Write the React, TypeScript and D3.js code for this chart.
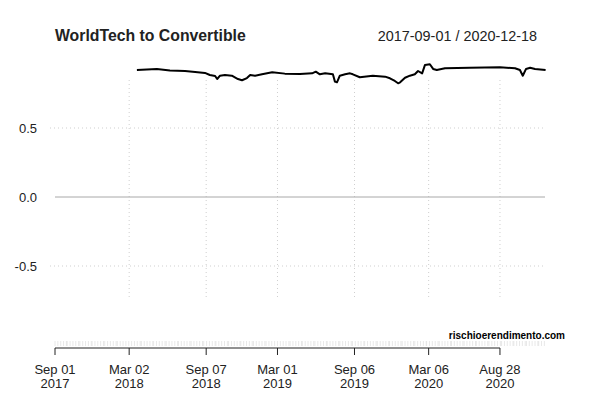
import React from "react";
import * as d3 from "d3";

const title = "WorldTech to Convertible";
const dateRangeLabel = "2017-09-01 / 2020-12-18";
const watermark = "rischioerendimento.com";

const startDate = "2017-09-01";
const endDate = "2020-12-18";

const majorTickDates = [
  "2017-09-01", "2018-03-02", "2018-09-07", "2019-03-01",
  "2019-09-06", "2020-03-06", "2020-08-28",
];
const yTicks = [-0.5, 0, 0.5];

const dates = [
  "2018-03-21", "2018-05-09", "2018-06-10", "2018-07-17", "2018-08-11",
  "2018-09-04", "2018-09-16", "2018-09-29", "2018-10-04", "2018-10-11",
  "2018-10-23", "2018-11-09", "2018-11-24", "2018-12-04", "2018-12-16",
  "2018-12-24", "2019-01-05", "2019-01-22", "2019-02-16", "2019-03-19",
  "2019-04-25", "2019-05-25", "2019-06-03", "2019-06-13", "2019-06-26",
  "2019-07-15", "2019-07-20", "2019-07-25", "2019-08-01", "2019-08-14",
  "2019-08-26", "2019-09-02", "2019-09-19", "2019-10-21", "2019-11-20",
  "2019-12-02", "2019-12-14", "2019-12-22", "2019-12-27", "2020-01-08",
  "2020-01-20", "2020-02-01", "2020-02-09", "2020-02-19", "2020-02-26",
  "2020-03-09", "2020-03-17", "2020-03-26", "2020-04-15", "2020-06-15",
  "2020-08-28", "2020-10-04", "2020-10-16", "2020-10-23", "2020-10-31",
  "2020-11-10", "2020-11-22", "2020-12-18",
];
const values = [
  0.920, 0.928, 0.917, 0.913, 0.906,
  0.899, 0.884, 0.877, 0.855, 0.879,
  0.884, 0.879, 0.855, 0.846, 0.862,
  0.884, 0.879, 0.889, 0.904, 0.894,
  0.891, 0.896, 0.908, 0.889, 0.896,
  0.889, 0.836, 0.831, 0.879, 0.889,
  0.896, 0.889, 0.868, 0.879, 0.872,
  0.860, 0.841, 0.824, 0.831, 0.864,
  0.879, 0.889, 0.913, 0.896, 0.957,
  0.962, 0.928, 0.920, 0.933, 0.937,
  0.940, 0.933, 0.920, 0.879, 0.928,
  0.937, 0.928, 0.920,
];

const parse = d3.timeParse("%Y-%m-%d");

export default function App() {
  const x = d3.scaleTime()
    .domain([parse(startDate)!, parse(endDate)!])
    .range([55, 545.6]);
  const y = d3.scaleLinear().domain([-0.5, 0.5]).range([266, 128]);

  const pts = dates.map((d, i) => ({ d: parse(d)!, v: values[i] }));
  const line = d3.line<{ d: Date; v: number }>()
    .x((p) => x(p.d))
    .y((p) => y(p.v))
    .curve(d3.curveLinear);

  const majors = majorTickDates.map((d) => parse(d)!);
  const minors = d3.timeDay.every(7)!.range(parse(startDate)!, d3.timeDay.offset(parse(endDate)!, 1));
  const fmtMD = d3.timeFormat("%b %d");
  const fmtY = d3.timeFormat("%Y");

  const font = "'Liberation Sans', Arial, Helvetica, sans-serif";
  const gridTop = 80;
  const gridBottom = 300;
  const axisY = 348;

  return (
    <svg width={600} height={400} style={{ position: "absolute", left: 0, top: 0, background: "#fff" }} fontFamily={font}>
      <rect width={600} height={400} fill="#fff" />
      <text x={55} y={41} fontSize={15.8} fontWeight="bold" fill="#222">{title}</text>
      <text x={537} y={41} fontSize={14.4} textAnchor="end" fill="#222">{dateRangeLabel}</text>

      {/* vertical grid */}
      {majors.slice(1).map((d, i) => (
        <line key={"vg" + i} x1={x(d)} x2={x(d)} y1={gridTop} y2={gridBottom}
          stroke="#cfcfcf" strokeWidth={1} strokeDasharray="1,3" />
      ))}
      {/* horizontal grid */}
      {yTicks.map((t, i) => t === 0 ? (
        <line key={"hg" + i} x1={55} x2={545} y1={y(t)} y2={y(t)} stroke="#a8a8a8" strokeWidth={1} />
      ) : (
        <line key={"hg" + i} x1={50} x2={545} y1={y(t)} y2={y(t)} stroke="#cfcfcf" strokeWidth={1} strokeDasharray="1,3" />
      ))}
      {yTicks.map((t, i) => (
        <text key={"yl" + i} x={37} y={y(t)} dy="0.35em" fontSize={13} textAnchor="end" fill="#222">
          {t.toFixed(1)}
        </text>
      ))}

      {/* series */}
      <path d={line(pts) || ""} fill="none" stroke="#000" strokeWidth={2} strokeLinejoin="round" />

      {/* minor ticks band */}
      {minors.map((d, i) => (
        <line key={"mt" + i} x1={x(d)} x2={x(d)} y1={341} y2={346} stroke="#e2e2e2" strokeWidth={0.8} />
      ))}
      {/* axis */}
      <line x1={x(majors[0])} x2={x(majors[majors.length - 1])} y1={axisY} y2={axisY} stroke="#222" strokeWidth={1} />
      {majors.map((d, i) => (
        <g key={"mj" + i}>
          <line x1={x(d)} x2={x(d)} y1={axisY} y2={axisY + 7} stroke="#222" strokeWidth={1} />
          <text x={x(d)} y={374} fontSize={13} textAnchor="middle" fill="#222">{fmtMD(d)}</text>
          <text x={x(d)} y={388} fontSize={13} textAnchor="middle" fill="#222">{fmtY(d)}</text>
        </g>
      ))}
      <text x={565} y={339} fontSize={10} fontWeight="bold" textAnchor="end" fill="#000">{watermark}</text>
    </svg>
  );
}
